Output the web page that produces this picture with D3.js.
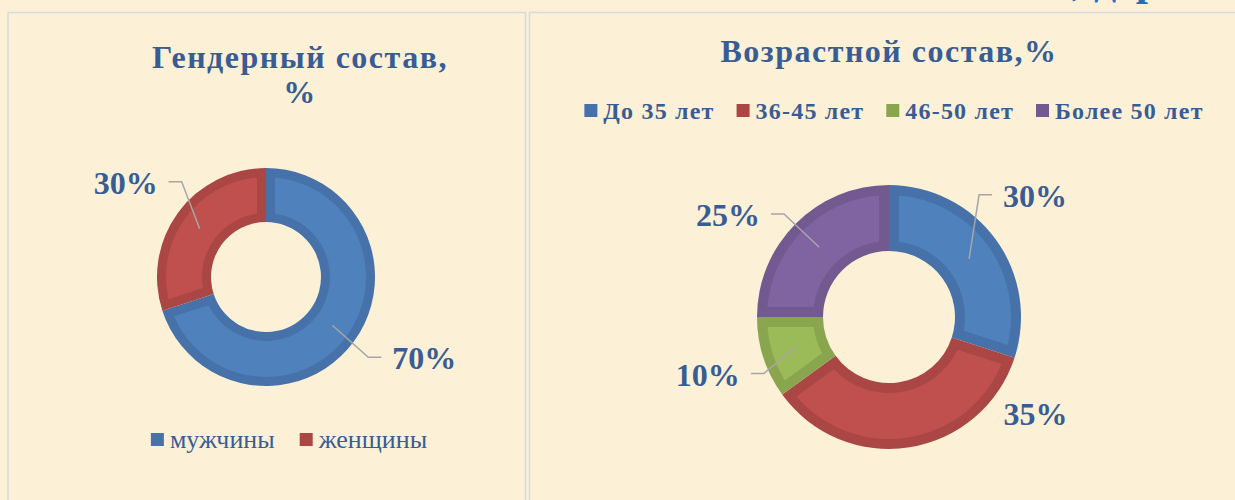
<!DOCTYPE html>
<html lang="ru">
<head>
<meta charset="utf-8">
<title>Гендерный и возрастной состав</title>
<script src="https://cdn.jsdelivr.net/npm/d3@7"></script>
<style>
    html, body { margin: 0; padding: 0; background: #fcf0d7; }
    svg { display: block; font-family: "Liberation Serif", "Times New Roman", serif; }
</style>
</head>
<body>
<svg id="chart" width="1235" height="500"></svg>
<script>
// data
const genderCategories = ["мужчины", "женщины"];
const genderValues = [70, 30];

const ageCategories = ["До 35 лет", "36-45 лет", "46-50 лет", "Более 50 лет"];
const ageValues = [30, 35, 10, 25];

// slice colours: face and darker bevel edge
const sliceColours = [
    { face: "#4f81bd", edge: "#4672a9" },
    { face: "#c0504d", edge: "#aa4644" },
    { face: "#9bbb59", edge: "#89a64f" },
    { face: "#8064a2", edge: "#725a90" }
];

const textColour = "#385d94";
const leaderColour = "#a6a6a6";
const borderColour = "#d7dade";

const genderLayout = {
    title: ["Гендерный состав,", "%"],
    titleX: 300, titleY: 68, titleLine: 35,
    cx: 266, cy: 277, outer: 109, inner: 55, bevel: 9,
    labels: [
        { dx: 60, dy: 33, anchor: "start", leader: true },
        { dx: -42, dy: -46, anchor: "end", leader: true }
    ],
    legend: { y: 448, centre: 289, fontSize: 26, weight: "normal", spacingLetters: 0, swatch: 13, gap: 6, spacing: 25 }
};

const ageLayout = {
    title: ["Возрастной состав,%"],
    titleX: 889, titleY: 62, titleLine: 35,
    cx: 889, cy: 317, outer: 132, inner: 66, bevel: 10,
    labels: [
        { dx: 34, dy: -63, anchor: "start", leader: true },
        { dx: 99, dy: -1, anchor: "start", leader: false },
        { dx: -55, dy: 27, anchor: "end", leader: true },
        { dx: -59, dy: -32, anchor: "end", leader: true }
    ],
    legend: { y: 119, centre: 894, fontSize: 24, weight: "bold", spacingLetters: 1.2, swatch: 13, gap: 6, spacing: 22 }
};

const svg = d3.select("#chart");

// panel frames
svg.append("rect")
    .attr("x", 8).attr("y", 12.5)
    .attr("width", 517.5).attr("height", 500)
    .attr("fill", "none")
    .attr("stroke", borderColour)
    .attr("stroke-width", 1.5);

svg.append("rect")
    .attr("x", 529.5).attr("y", 12.5)
    .attr("width", 720).attr("height", 500)
    .attr("fill", "none")
    .attr("stroke", borderColour)
    .attr("stroke-width", 1.5);

// slide heading, only its lower edge is inside the picture
svg.append("text")
    .attr("x", 1072)
    .attr("y", -5)
    .attr("fill", "#1f6fc0")
    .attr("font-size", 44)
    .attr("font-weight", "bold")
    .text(", дер");

drawDonut(genderCategories, genderValues, genderLayout);
drawDonut(ageCategories, ageValues, ageLayout);

function drawDonut(categories, values, layout) {
    const total = d3.sum(values);
    const slices = d3.pie().sort(null).value((d) => d)(values);

    const arc = d3.arc()
        .innerRadius(layout.inner)
        .outerRadius(layout.outer);

    const faceArc = d3.arc()
        .innerRadius(layout.inner + layout.bevel)
        .outerRadius(layout.outer - layout.bevel)
        .padRadius(layout.outer)
        .padAngle(2 * layout.bevel / layout.outer);

    const g = svg.append("g")
        .attr("transform", `translate(${layout.cx}, ${layout.cy})`);

    g.selectAll("path.edge")
        .data(slices)
        .join("path")
        .attr("class", "edge")
        .attr("d", arc)
        .attr("fill", (d, i) => sliceColours[i].edge);

    g.selectAll("path.face")
        .data(slices)
        .join("path")
        .attr("class", "face")
        .attr("d", faceArc)
        .attr("fill", (d, i) => sliceColours[i].face);

    // data labels with leader lines
    const gap = 11;
    const run = 13;
    slices.forEach((d, i) => {
        const spec = layout.labels[i];
        const [x0, y0] = arc.centroid(d);
        const lx = x0 + spec.dx;
        const ly = y0 + spec.dy;
        const side = spec.anchor === "start" ? -1 : 1;

        if (spec.leader) {
            g.append("path")
                .datum([[x0, y0], [lx + side * (gap + run), ly - 1], [lx + side * gap, ly - 1]])
                .attr("d", d3.line())
                .attr("fill", "none")
                .attr("stroke", leaderColour)
                .attr("stroke-width", 1.5);
        }

        g.append("text")
            .attr("x", lx)
            .attr("y", ly)
            .attr("dy", "0.35em")
            .attr("text-anchor", spec.anchor)
            .attr("fill", textColour)
            .attr("font-size", 32)
            .attr("font-weight", "bold")
            .text(d3.format(".0%")(d.value / total));
    });

    // title
    const title = svg.append("text")
        .attr("x", layout.titleX)
        .attr("y", layout.titleY)
        .attr("text-anchor", "middle")
        .attr("fill", textColour)
        .attr("font-size", 32)
        .attr("font-weight", "bold")
        .attr("letter-spacing", 1.5);
    layout.title.forEach((line, i) => {
        title.append("tspan")
            .attr("x", layout.titleX)
            .attr("dy", i === 0 ? 0 : layout.titleLine)
            .text(line);
    });

    // legend, laid out from measured text widths
    const lg = layout.legend;
    const legend = svg.append("g");
    const items = legend.selectAll("g")
        .data(categories)
        .join("g");

    items.append("rect")
        .attr("width", lg.swatch)
        .attr("height", lg.swatch)
        .attr("y", lg.y - lg.swatch - 2)
        .attr("fill", (d, i) => sliceColours[i].edge);

    items.append("text")
        .attr("x", lg.swatch + lg.gap)
        .attr("y", lg.y)
        .attr("fill", textColour)
        .attr("font-size", lg.fontSize)
        .attr("font-weight", lg.weight)
        .attr("letter-spacing", lg.spacingLetters)
        .text((d) => d);

    let offset = 0;
    const starts = [];
    items.each(function () {
        const w = lg.swatch + lg.gap + d3.select(this).select("text").node().getComputedTextLength();
        starts.push(offset);
        offset += w + lg.spacing;
    });
    const full = offset - lg.spacing;
    items.attr("transform", (d, i) => `translate(${lg.centre - full / 2 + starts[i]}, 0)`);
}
</script>
</body>
</html>
